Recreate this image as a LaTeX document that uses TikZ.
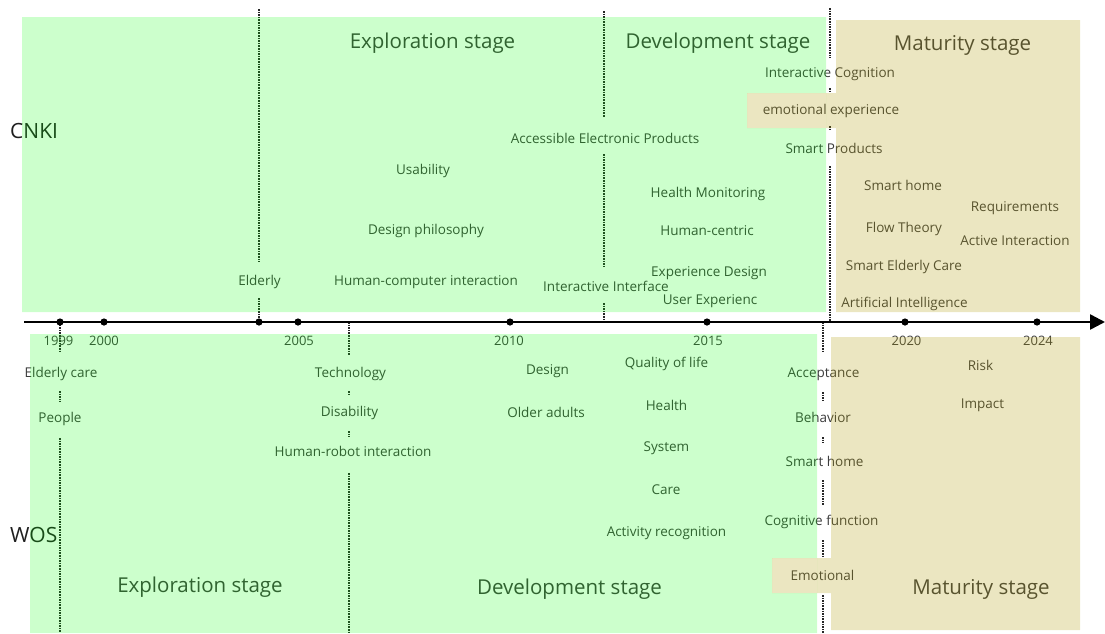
\documentclass[tikz,border=0pt]{standalone}
\usepackage{fontspec}
\setmainfont{Open Sans}
\usetikzlibrary{arrows.meta}
\definecolor{txt}{RGB}{60,60,60}
\definecolor{gzone}{RGB}{0,255,0}
\definecolor{kzone}{RGB}{175,155,7}
\begin{document}
\begin{tikzpicture}[x=1pt,y=-1pt,
  lbl/.style={font=\fontsize{13.5}{16}\selectfont, text=txt, inner sep=0pt, text height=9.5pt, text depth=2.5pt, yshift=-1.8pt},
  yr/.style={font=\fontsize{13}{15}\selectfont, text=txt, inner sep=0pt, text height=9.5pt, text depth=2.5pt, yshift=-1pt},
  stage/.style={font=\fontsize{20.5}{24}\selectfont, text=txt, inner sep=0pt, text height=15pt, text depth=4pt, yshift=-2pt},
  src/.style={font=\fontsize{21}{25}\selectfont, text=black!88, inner sep=0pt, anchor=west, text height=15pt, text depth=0pt},
  divider/.style={densely dotted, line width=1.6pt, black!85},
  devzone/.style={fill=gzone, fill opacity=0.2},
  matzone/.style={fill=kzone, fill opacity=0.25}]
  \useasboundingbox (0,0) rectangle (1105,633);
  \foreach \x/\a/\b in {259/9/262, 259/298/322, 604/11/117, 604/154/267, 604/303/322,
    830/8/58, 830/88/93, 830/126/131, 830/166/322,
    60/322/353, 60/391/402, 60/438/633, 349/322/355, 349/391/395, 349/431/437, 349/473/633,
    823/322/353, 823/392/400, 823/437/443, 823/480/505, 823/540/557, 823/595/633}
    \draw[divider] (\x,\a) -- (\x,\b);
  \coordinate (ax0) at (24,322);
  \coordinate (ax1) at (1105,322);
  \draw[line width=2.5pt, -{Triangle[length=15pt,width=15pt]}] (ax0) -- (ax1);
  \foreach \x in {60,104,259,298,510,707,905,1037} \fill (\x,322) circle (3.6pt);
  \foreach \x/\yr in {58.5/1999, 104/2000, 299/2005, 509/2010, 708/2015, 906.5/2020, 1038/2024}
    \node[yr] (y\yr) at (\x,341) {\yr};
  \node[src] (cnki) at (10,131) {CNKI};
  \node[src] (wos) at (10,535) {WOS};
  \node[stage] (cexp) at (432.5,41) {Exploration stage};
  \node[stage] (cdev) at (718,41) {Development stage};
  \node[stage] (cmat) at (962.5,43) {Maturity stage};
  \node[stage] (wexp) at (200,585) {Exploration stage};
  \node[stage] (wdev) at (569.5,587) {Development stage};
  \node[stage] (wmat) at (981,587) {Maturity stage};
  \foreach \x/\y/\t [count=\i] in {830/72/Interactive Cognition, 831/109/emotional experience,
    834/148/Smart Products, 605/138/Accessible Electronic Products, 423/169/Usability,
    426/229/Design philosophy, 426/280/Human-computer interaction, 259.5/280/Elderly,
    606/286/Interactive Interface, 708/192/Health Monitoring, 707/230/Human-centric,
    709/271/Experience Design, 710/299/User Experienc, 903/185/Smart home,
    1015/206/Requirements, 904/227/Flow Theory, 1015/240/Active Interaction,
    904/265/Smart Elderly Care, 904.5/302/Artificial Intelligence}
    \node[lbl] (c\i) at (\x,\y) {\t};
  \foreach \x/\y/\t [count=\i] in {61/372/Elderly care, 60/417/People, 350.5/372/Technology,
    349.5/411/Disability, 353/451/Human-robot interaction, 547.5/369/Design,
    546/412/Older adults, 666.5/362/Quality of life, 666.5/405/Health, 666.5/446/System,
    666/489/Care, 666.5/531/Activity recognition, 823.5/372/Acceptance, 823/417/Behavior,
    824.5/461/Smart home, 821.5/520/Cognitive function, 822.5/575/Emotional,
    980.5/365/Risk, 982.5/403/Impact}
    \node[lbl] (w\i) at (\x,\y) {\t};
  \fill[devzone, even odd rule] (22,17) rectangle (826,312) (747,93) rectangle (826,128);
  \fill[matzone] (836,20) rectangle (1080,312) (747,93) rectangle (836,128);
  \fill[devzone, even odd rule] (30,334) rectangle (817,633) (772,558) rectangle (817,593);
  \fill[matzone] (831,337) rectangle (1080,630) (772,558) rectangle (831,593);
\end{tikzpicture}
\end{document}
